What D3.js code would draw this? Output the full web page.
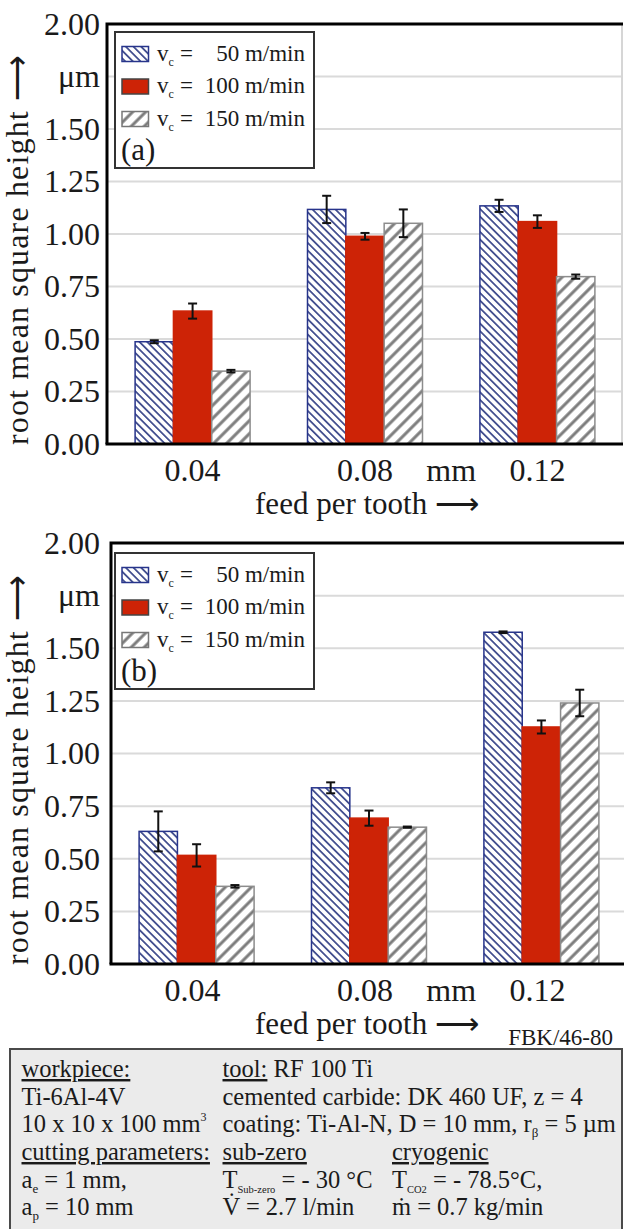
<!DOCTYPE html>
<html>
<head>
<meta charset="utf-8">
<script src="https://cdn.jsdelivr.net/npm/d3@7"></script>
<style>
  body { margin: 0; background: #fff; }
</style>
</head>
<body>
<svg id="chart" width="624" height="1229"></svg>
<script>
// Data
const categories = ["0.04", "0.08", "0.12"];
const speeds = ["50", "100", "150"];
const yTicks = [0, 0.25, 0.5, 0.75, 1, 1.25, 1.5, 1.75, 2];

// (a) sub-zero
const meanA = [[0.487, 1.117, 1.134], [0.633, 0.989, 1.059], [0.347, 1.051, 0.797]];
const errA = [[0.007, 0.065, 0.029], [0.036, 0.016, 0.030], [0.006, 0.066, 0.010]];
// (b) cryogenic
const meanB = [[0.630, 0.837, 1.576], [0.516, 0.693, 1.126], [0.369, 0.650, 1.240]];
const errB = [[0.095, 0.026, 0.004], [0.053, 0.036, 0.031], [0.006, 0.003, 0.063]];

const boxCol1 = [
  [["workpiece:", "u"]],
  [["Ti-6Al-4V"]],
  [["10 x 10 x 100 mm"], ["3", "sup"]],
  [["cutting parameters:", "u"]],
  [["a"], ["e", "sub"], [" = 1 mm,"]],
  [["a"], ["p", "sub"], [" = 10 mm"]]
];
const boxCol2 = [
  [["tool:", "u"], [" RF 100 Ti"]],
  [["cemented carbide: DK 460 UF, z = 4"]],
  [["coating: Ti-Al-N, D = 10 mm, r"], ["β", "sub"], [" = 5 µm"]],
  [["sub-zero", "u"]],
  [["T"], ["Sub-zero", "sub2"], [" = - 30 °C"]],
  [["V\u0307 = 2.7 l/min"]]
];
const boxCol3 = [
  [["cryogenic", "u"]],
  [["T"], ["CO2", "sub2"], [" = - 78.5°C,"]],
  [["ṁ = 0.7 kg/min"]]
];

const SERIF = "'Liberation Serif', 'Times New Roman', serif";

const svg = d3.select("#chart");
const defs = svg.append("defs");

function hatch(id, color, size, width, angle) {
  const p = defs.append("pattern")
    .attr("id", id)
    .attr("patternUnits", "userSpaceOnUse")
    .attr("width", size).attr("height", size)
    .attr("patternTransform", `rotate(${angle})`);
  p.append("rect").attr("width", size).attr("height", size).attr("fill", "#fff");
  p.append("line")
    .attr("x1", size / 2).attr("y1", -1).attr("x2", size / 2).attr("y2", size + 1)
    .attr("stroke", color).attr("stroke-width", width);
}
hatch("hatchBlue", "#1f2d7a", 5.4, 1.5, -45);
hatch("hatchGray", "#7d7d7d", 9.2, 3, 45);

const fills = ["url(#hatchBlue)", "#cd2306", "url(#hatchGray)"];
const strokes = ["#27348b", "#cd2306", "#8c8c8c"];
const swatchStrokes = ["#27348b", "#444", "#777"];

function panel(cfg, means, errs) {
  const { x0, x1, y0, y1 } = cfg;
  const g = svg.append("g");

  const x = d3.scaleBand().domain(categories).range([x0, x1])
    .paddingInner(0.333).paddingOuter(0.163);
  const xs = d3.scaleBand().domain(speeds).range([0, x.bandwidth()]);
  const y = d3.scaleLinear().domain([0, 2]).range([y1, y0]);

  // gridlines
  g.selectAll(".grid").data(yTicks.filter(d => d > 0 && d < 2)).join("line")
    .attr("x1", x0).attr("x2", x1)
    .attr("y1", d => y(d)).attr("y2", d => y(d))
    .attr("stroke", "#dadada").attr("stroke-width", 2);
  g.append("line").attr("x1", x1 - 1).attr("x2", x1 - 1).attr("y1", y0).attr("y2", y1)
    .attr("stroke", "#d6d6d6").attr("stroke-width", 2);

  // bars
  speeds.forEach((s, i) => {
    g.selectAll(null).data(categories).join("rect")
      .attr("x", c => x(c) + xs(s))
      .attr("y", (c, j) => y(means[i][j]))
      .attr("width", xs.bandwidth())
      .attr("height", (c, j) => y(0) - y(means[i][j]))
      .attr("fill", fills[i])
      .attr("stroke", strokes[i]).attr("stroke-width", 1.5);
  });

  // error bars
  speeds.forEach((s, i) => {
    const eb = g.selectAll(null).data(categories).join("g")
      .attr("transform", c => `translate(${x(c) + xs(s) + xs.bandwidth() / 2},0)`);
    eb.append("line")
      .attr("y1", (c, j) => y(means[i][j] - errs[i][j]))
      .attr("y2", (c, j) => y(means[i][j] + errs[i][j]))
      .attr("stroke", "#111").attr("stroke-width", 2);
    [-1, 1].forEach(k => {
      eb.append("line").attr("x1", -4.5).attr("x2", 4.5)
        .attr("y1", (c, j) => y(means[i][j] + k * errs[i][j]))
        .attr("y2", (c, j) => y(means[i][j] + k * errs[i][j]))
        .attr("stroke", "#111").attr("stroke-width", 2);
    });
  });

  // frame
  g.append("path")
    .attr("d", `M${x0},${y1}V${y0}H${x1}`)
    .attr("fill", "none").attr("stroke", "#000").attr("stroke-width", 3);
  g.append("line").attr("x1", x0 - 1.5).attr("x2", x1).attr("y1", y1).attr("y2", y1)
    .attr("stroke", "#000").attr("stroke-width", 3);

  // y axis labels
  const ya = g.append("g").attr("transform", `translate(${x0},0)`)
    .call(d3.axisLeft(y).tickValues(yTicks).tickSize(0).tickPadding(x0 - 100)
      .tickFormat(d => d === 1.75 ? "μm" : d3.format(".2f")(d)));
  ya.select(".domain").remove();
  ya.selectAll("text").style("font-size", "32px");

  // x axis labels
  const xa = g.append("g").attr("transform", `translate(${cfg.labelShift},${y1})`)
    .call(d3.axisBottom(x).tickSize(0).tickPadding(14));
  xa.select(".domain").remove();
  xa.selectAll("text").style("font-size", "32px");

  const c2 = x(categories[1]) + x.bandwidth() / 2 + cfg.labelShift;
  const c3 = x(categories[2]) + x.bandwidth() / 2 + cfg.labelShift;
  g.append("text").attr("x", (c2 + c3) / 2).attr("y", y1 + 37)
    .attr("text-anchor", "middle").style("font-size", "32px").text("mm");
  g.append("text").attr("x", c2 + 2).attr("y", y1 + 70)
    .attr("text-anchor", "middle").style("font-size", "31px").text("feed per tooth ⟶");

  // y title, stretched from the zero line up to near the top
  g.append("text")
    .attr("transform", `translate(28,${y1 + 1}) rotate(-90)`)
    .attr("text-anchor", "start").style("font-size", "32px")
    .attr("textLength", 390).attr("lengthAdjust", "spacing")
    .text("root mean square height ⟶");

  // legend
  const lg = g.append("g").attr("transform", `translate(${cfg.lx},${cfg.ly})`);
  lg.append("rect").attr("width", 199).attr("height", 136)
    .attr("fill", "#fff").attr("stroke", "#333").attr("stroke-width", 2);
  speeds.forEach((s, i) => {
    const ry = 28.5 + i * 32.5;
    lg.append("rect").attr("x", 7).attr("y", ry - 14).attr("width", 26.5).attr("height", 15)
      .attr("fill", fills[i]).attr("stroke", swatchStrokes[i]).attr("stroke-width", 1.5);
    const t = lg.append("text").attr("x", 42).attr("y", ry).style("font-size", "23px");
    t.append("tspan").text("v");
    t.append("tspan").attr("dy", 5).style("font-size", "12px").text("c");
    lg.append("text").attr("x", 65).attr("y", ry).style("font-size", "23px").text("=");
    lg.append("text").attr("x", 190).attr("y", ry).attr("text-anchor", "end")
      .style("font-size", "23px").text(`${s} m/min`);
  });
  lg.append("text").attr("x", 6).attr("y", 128).style("font-size", "31px").text(cfg.tag);
}

panel({ x0: 107, x1: 623, y0: 24, y1: 444, lx: 115, ly: 32, tag: "(a)", labelShift: 0 }, meanA, errA);
panel({ x0: 111, x1: 627, y0: 543, y1: 964, lx: 115, ly: 553, tag: "(b)", labelShift: -4 }, meanB, errB);

svg.append("text").attr("x", 613).attr("y", 1045).attr("text-anchor", "end")
  .style("font-size", "23px").text("FBK/46-80");

// parameter box
svg.append("rect").attr("x", 10).attr("y", 1049).attr("width", 612).attr("height", 200)
  .attr("fill", "#ebebeb").attr("stroke", "#4a4a4a").attr("stroke-width", 2);

const rowY = [1077, 1105, 1132, 1160, 1187.5, 1215];

function boxLine(xp, yp, segs) {
  const t = svg.append("text").attr("x", xp).attr("y", yp).style("font-size", "24.5px");
  let shift = 0;
  segs.forEach(([txt, kind]) => {
    let target = 0, size = "24.5px";
    if (kind === "sub") { target = 5; size = "13px"; }
    if (kind === "sub2") { target = 5; size = "10.5px"; }
    if (kind === "sup") { target = -11; size = "12px"; }
    const ts = t.append("tspan").attr("dy", target - shift).style("font-size", size).text(txt);
    if (kind === "u") ts.style("text-decoration", "underline");
    shift = target;
  });
}
boxCol1.forEach((segs, i) => boxLine(21.5, rowY[i], segs));
boxCol2.forEach((segs, i) => boxLine(222.5, rowY[i], segs));
boxCol3.forEach((segs, i) => boxLine(392, rowY[i + 3], segs));

// serif face everywhere, text in near-black
svg.selectAll("text").style("font-family", SERIF).style("fill", "#1a1a1a");
</script>
</body>
</html>
